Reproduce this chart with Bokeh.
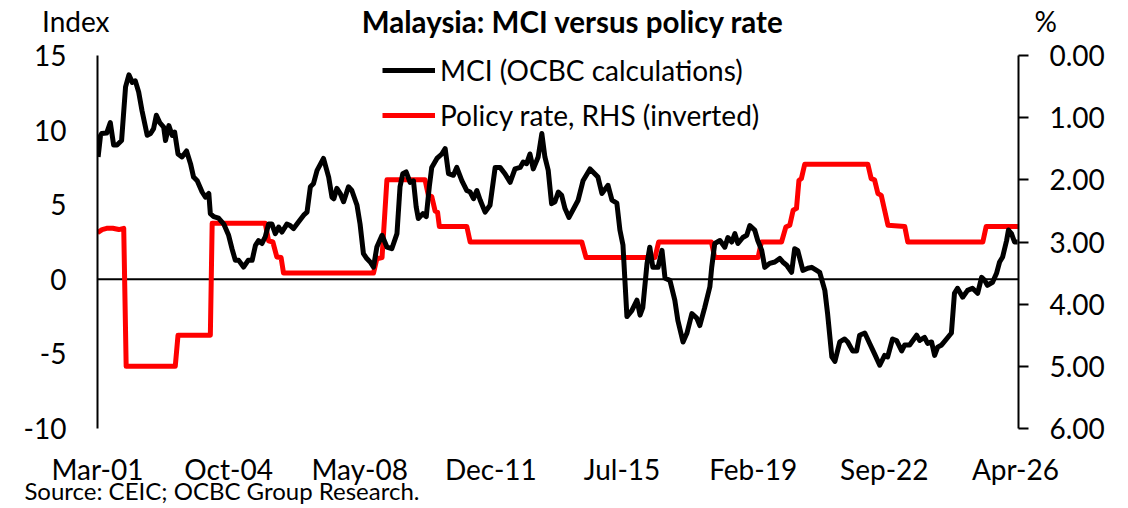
from bokeh.plotting import figure
from bokeh.layouts import column
from bokeh.models import (Range1d, LinearAxis, FixedTicker, Span, Legend, Label,
                          LegendItem, NumeralTickFormatter)
from bokeh.embed import file_html
from bokeh.resources import INLINE

# ---- data (months since Mar-2001) ----
tick_months = [0, 43, 86, 129, 172, 215, 258, 301]
tick_labels = ["Mar-01", "Oct-04", "May-08", "Dec-11", "Jul-15", "Feb-19", "Sep-22", "Apr-26"]
left_ticks = [-10, -5, 0, 5, 10, 15]
right_ticks = [0, 1, 2, 3, 4, 5, 6]

mci_month = [0.2, 1.0, 1.4, 3.0, 4.2, 5.3, 6.4, 7.9, 9.2, 10.3, 11.4, 12.4, 13.5, 14.6, 16.3, 17.4,
             18.4, 19.3, 20.4, 21.7, 22.3, 23.4, 24.5, 25.3, 26.4, 27.7, 29.2, 30.5, 31.5, 32.7,
             34.3, 35.4, 36.5, 37.0, 38.1, 39.7, 41.4, 43.0, 44.1, 45.2, 46.3, 47.9, 49.4, 50.7,
             51.8, 52.8, 53.9, 55.0, 56.1, 57.2, 58.3, 59.4, 60.5, 62.1, 63.2, 64.3, 65.9, 67.6,
             68.7, 69.8, 70.8, 72.0, 74.1, 75.8, 76.9, 77.5, 78.5, 79.6, 80.7, 82.3, 83.4, 85.1,
             86.1, 87.2, 88.3, 89.4, 90.5, 91.6, 93.3, 94.9, 96.5, 98.2, 99.2, 100.1, 101.2, 102.5,
             103.6, 104.5, 105.2, 106.7, 107.8, 108.8, 109.6, 111.3, 112.9, 114.0, 115.1, 116.7,
             117.8, 119.5, 121.1, 122.2, 123.3, 124.4, 125.5, 127.1, 128.7, 130.4, 132.0, 133.6,
             135.3, 136.9, 138.6, 139.6, 140.7, 141.8, 142.9, 144.5, 145.7, 146.7, 147.8, 148.9,
             150.0, 151.1, 152.2, 153.3, 154.6, 157.6, 159.2, 161.5, 164.1, 165.4, 167.4, 168.7,
             170.3, 171.3, 172.3, 173.6, 175.2, 176.9, 177.9, 178.8, 180.2, 181.1, 182.1, 183.8,
             185.1, 186.1, 187.7, 189.3, 190.3, 192.0, 193.3, 194.9, 196.5, 197.5, 199.1, 200.8,
             201.4, 202.4, 204.1, 205.7, 206.7, 208.0, 209.0, 210.0, 211.6, 212.9, 213.9, 215.5,
             216.5, 217.8, 218.8, 220.4, 222.1, 223.7, 224.7, 226.0, 227.6, 228.6, 229.6, 231.3,
             232.9, 234.2, 235.8, 236.8, 238.5, 239.4, 240.8, 241.8, 243.4, 245.0, 246.0, 247.6,
             248.9, 249.9, 251.6, 253.2, 254.8, 256.5, 258.1, 259.1, 260.7, 262.0, 263.7, 264.7,
             266.3, 268.6, 269.6, 271.2, 272.2, 273.5, 274.5, 275.5, 276.8, 278.4, 280.0, 281.0,
             282.0, 283.7, 285.3, 286.9, 288.6, 289.9, 290.9, 291.8, 293.5, 294.8, 295.8, 296.8,
             298.1, 298.7, 299.7, 300.7, 301.7]
mci_value = [8.2, 9.65, 9.77, 9.8, 10.5, 9.0, 9.0, 9.3, 12.9, 13.7, 13.2, 13.3, 12.55, 11.3, 9.65, 9.77,
             10.1, 11.0, 10.5, 10.2, 9.3, 10.3, 9.65, 9.87, 8.4, 8.2, 8.6, 7.75, 6.85, 6.6,
             5.85, 5.5, 5.75, 4.4, 4.2, 4.1, 3.7, 2.95, 2.05, 1.27, 1.27, 0.82, 1.27, 1.27,
             2.28, 2.6, 2.4, 2.84, 3.7, 3.7, 3.06, 3.5, 3.17, 3.7, 3.6, 3.4, 3.84, 4.3,
             4.5, 6.2, 6.4, 7.3, 8.1, 6.85, 5.5, 5.4, 6.1, 5.75, 5.2, 6.2, 5.95, 4.96,
             3.7, 1.72, 1.39, 1.16, 0.82, 2.16, 2.95, 2.16, 2.05, 3.06, 6.2, 7.08, 7.2, 6.5,
             6.6, 4.85, 4.07, 4.4, 4.2, 6.2, 7.5, 8.1, 8.4, 8.76, 7.08, 6.97,
             7.5, 6.6, 5.95, 5.85, 5.4, 5.95, 5.3, 4.5, 4.96, 7.5, 7.5, 7.08,
             6.5, 7.4, 7.5, 7.86, 7.75, 8.4, 7.4, 8.2, 9.77, 8.2, 7.3, 5.07,
             5.2, 5.85, 5.63, 4.74, 4.15, 5.3, 6.6, 7.4, 6.85, 5.75, 6.3, 5.3,
             5.1, 3.3, 2.3, -2.5, -2.1, -1.4, -2.4, -1.9, 1.07, 2.15, 0.8, 0.8,
             1.94, 0.07, -0.07, -1.4, -2.75, -4.2, -3.6, -2.3, -2.6, -3.1, -1.9, -0.5,
             0.8, 2.4, 2.6, 2.15, 2.8, 2.5, 3.06, 2.4, 2.8, 2.95, 3.6, 3.3,
             2.6, 1.94, 0.8, 1.07, 1.16, 1.4, 1.16, 0.94, 0.47, 2.05, 1.94, 0.6,
             0.74, 0.8, 0.6, 0.47, -0.74, -2.3, -5.2, -5.5, -4.2, -4.0, -4.2, -4.8,
             -4.8, -3.75, -3.6, -4.3, -5.0, -5.76, -5.1, -5.2, -4.0, -4.1, -4.8, -4.4,
             -4.4, -3.75, -4.1, -3.9, -4.3, -4.2, -5.1, -4.55, -4.4, -4.0, -3.6, -0.94,
             -0.6, -1.2, -0.74, -0.6, -0.94, 0.13, -0.07, -0.4, -0.2, 0.4, 1.16, 1.5,
             2.6, 3.3, 3.06, 2.5, 2.5]

rate_month = [0, 1.5, 3, 5, 7, 8.6, 9.4, 25.5, 26.4, 37.0, 37.6, 55.0, 56.1, 57.5, 58.8, 60.2, 61.0,
              90.5, 91.6, 93.3, 94.9, 107.4, 108.5, 109.6, 110.7, 111.5, 112.1, 121.1, 122.2,
              158.8, 160.2, 182.8, 184.0, 201.3, 202.4, 216.6, 217.7, 224.3, 225.7, 227.0, 228.1,
              229.2, 230.0, 230.8, 231.9, 252.6, 253.7, 254.8, 255.9, 257.0, 258.1, 259.2, 264.7,
              265.7, 290.3, 291.4, 301.8]
rate_value = [2.85, 2.8, 2.78, 2.78, 2.8, 2.78, 5.0, 5.0, 4.5, 4.5, 2.7, 2.7, 2.98, 3.0, 3.24, 3.25, 3.5,
              3.5, 3.27, 3.25, 2.0, 2.0, 2.25, 2.27, 2.5, 2.52, 2.75, 2.75, 3.0,
              3.0, 3.25, 3.25, 3.0, 3.0, 3.25, 3.25, 3.0, 3.0, 2.76, 2.73, 2.49,
              2.46, 2.01, 1.98, 1.75, 1.75, 1.98, 2.0, 2.22, 2.25, 2.49, 2.73, 2.75,
              3.0, 3.0, 2.75, 2.75]

title_text = "Malaysia: MCI versus policy rate"
left_unit = "Index"
right_unit = "%"
source_text = "Source: CEIC; OCBC Group Research."
source_center_month = 40.8
title_center_month = 155.9

FONT = "Lato"
FS = "28px"
W = 1112
HEAD_H = 38


def bare_axis(ax, size, standoff):
    ax.axis_line_color = None
    ax.major_tick_line_color = None
    ax.major_tick_in = 0
    ax.major_tick_out = 0
    ax.minor_tick_line_color = None
    ax.major_label_standoff = standoff
    ax.major_label_text_font = FONT
    ax.major_label_text_font_size = size
    ax.major_label_text_color = "black"


# ---------- header strip (same frame as the chart) ----------
top = figure(width=W, height=HEAD_H, x_range=Range1d(0, 302), y_range=Range1d(0, HEAD_H),
             output_backend="svg", toolbar_location=None,
             min_border_left=97, min_border_right=94, min_border_top=0, min_border_bottom=0)
top.outline_line_color = None
top.grid.visible = False
top.xaxis.visible = False
hy = HEAD_H - 20.5
tl = top.yaxis[0]
tl.ticker = FixedTicker(ticks=[hy])
tl.major_label_overrides = {hy: left_unit}
bare_axis(tl, FS, -12)
tr = LinearAxis(ticker=FixedTicker(ticks=[hy]))
tr.major_label_overrides = {hy: right_unit}
bare_axis(tr, FS, 16)
top.add_layout(tr, "right")
top.add_layout(Label(x=title_center_month, y=hy, text=title_text, text_align="center",
                     text_baseline="middle", text_font=FONT, text_font_size="29.5px",
                     text_font_style="bold", text_color="black"))

# ---------- main chart ----------
PX_PER_UNIT = 373 / 25.0           # left axis: 25 units over the axis length
EXTRA = 5 / PX_PER_UNIT            # 5px of frame above the axis top
p = figure(width=W, height=508 - HEAD_H, x_range=Range1d(0, 302),
           y_range=Range1d(-10, 15 + EXTRA),
           output_backend="svg", toolbar_location=None,
           min_border_left=97, min_border_right=94, min_border_top=12, min_border_bottom=80)
p.outline_line_color = None
p.xgrid.visible = False
p.ygrid.visible = False
p.background_fill_color = "white"

# x axis
xa = p.xaxis[0]
xa.ticker = FixedTicker(ticks=tick_months)
xa.major_label_overrides = {m: l for m, l in zip(tick_months, tick_labels)}
bare_axis(xa, FS, 23)

# source line drawn as a second (line-less) bottom axis
p.extra_x_ranges = {"src": Range1d(0, 302)}
sa = LinearAxis(x_range_name="src", ticker=FixedTicker(ticks=[source_center_month]))
sa.major_label_overrides = {source_center_month: source_text}
bare_axis(sa, "24px", -13)
p.add_layout(sa, "below")

# left axis
ya = p.yaxis[0]
ya.ticker = FixedTicker(ticks=left_ticks)
ya.major_label_overrides = {t: str(t) for t in left_ticks}
bare_axis(ya, FS, 31)
ya.bounds = (-10, 15)
ya.axis_line_color = "black"
ya.axis_line_width = 2

# right axis (inverted)
p.extra_y_ranges = {"rate": Range1d(start=6, end=0 - EXTRA * 6 / 25)}
ra = LinearAxis(y_range_name="rate", ticker=FixedTicker(ticks=right_ticks),
                formatter=NumeralTickFormatter(format="0.00"))
bare_axis(ra, FS, 21)
ra.bounds = (0, 6)
ra.axis_line_color = "black"
ra.axis_line_width = 2
ra.major_tick_line_color = "black"
ra.major_tick_line_width = 2
ra.major_tick_out = 10
p.add_layout(ra, "right")

zero = Span(location=0, dimension="width", line_color="black", line_width=2, level="underlay")
p.add_layout(zero)

r_rate = p.line(rate_month, rate_value, y_range_name="rate", line_color="#FF0000", line_width=5,
                line_join="round")
r_mci = p.line(mci_month, mci_value, line_color="black", line_width=5, line_join="round")

legend = Legend(items=[LegendItem(label="MCI (OCBC calculations)", renderers=[r_mci]),
                       LegendItem(label="Policy rate, RHS (inverted)", renderers=[r_rate])],
                location=(285, 294), orientation="vertical", border_line_color=None,
                background_fill_alpha=0, padding=0, margin=0, spacing=7,
                glyph_width=53, glyph_height=38, label_height=38, label_standoff=5,
                label_text_font=FONT, label_text_font_size=FS, label_text_color="black")
p.add_layout(legend)

layout = column(top, p, spacing=0)
open("out.html", "w").write(file_html(layout, INLINE))
